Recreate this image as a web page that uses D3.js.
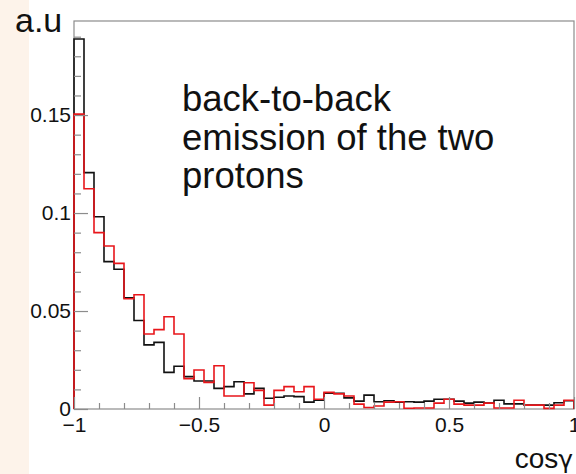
<!DOCTYPE html>
<html>
<head>
<meta charset="utf-8">
<script src="https://cdn.jsdelivr.net/npm/d3@7"></script>
<style>
  body { margin: 0; background: #fff; }
  text { font-family: "Liberation Sans", Arial, sans-serif; }
</style>
</head>
<body>
<svg id="svg_hist"></svg>
<script>
// bin contents, 50 bins from -1 to 1
var blackValues = [
  0.1888, 0.1206, 0.0981, 0.0752, 0.0713, 0.0568, 0.0452, 0.0327, 0.0340, 0.0187,
  0.0218, 0.0165, 0.0143, 0.0143, 0.0105, 0.0114, 0.0139, 0.0077, 0.0105, 0.0055,
  0.0060, 0.0066, 0.0063, 0.0035, 0.0045, 0.0080, 0.0080, 0.0057, 0.0040, 0.0071,
  0.0037, 0.0042, 0.0035, 0.0037, 0.0035, 0.0040, 0.0050, 0.0050, 0.0040, 0.0030,
  0.0035, 0.0030, 0.0045, 0.0026, 0.0026, 0.0020, 0.0020, 0.0020, 0.0032, 0.0042
]
var redValues = [
  0.1505, 0.1124, 0.0900, 0.0832, 0.0743, 0.0563, 0.0583, 0.0383, 0.0405, 0.0471,
  0.0383, 0.0155, 0.0199, 0.0136, 0.0221, 0.0066, 0.0066, 0.0134, 0.0095, 0.0020,
  0.0095, 0.0114, 0.0088, 0.0114, 0.0050, 0.0085, 0.0077, 0.0066, 0.0025, 0.0008,
  0.0015, 0.0035, 0.0037, 0.0004, 0.0005, 0.0005, 0.0030, 0.0050, 0.0025, 0.0020,
  0.0020, 0.0030, 0.0005, 0.0005, 0.0045, 0.0020, 0.0020, 0.0003, 0.0020, 0.0045
]
var xRange = [-1, 1]
var yRange = [0, 0.198]
var xMajor = [-1, -0.5, 0, 0.5, 1]
var xMajorLabels = ["\u22121", "\u22120.5", "0", "0.5", "1"]
var xMinor = [-0.9, -0.8, -0.7, -0.6, -0.4, -0.3, -0.2, -0.1, 0.1, 0.2, 0.3, 0.4, 0.6, 0.7, 0.8, 0.9]
var yMajor = [0, 0.05, 0.1, 0.15]
var yMajorLabels = ["0", "0.05", "0.1", "0.15"]
var yMinor = [0.01, 0.02, 0.03, 0.04, 0.06, 0.07, 0.08, 0.09, 0.11, 0.12, 0.13, 0.14, 0.16, 0.17, 0.18, 0.19]
var noteLines = ["back-to-back", "emission of the two", "protons"]

var width = 576,
  height = 474
var plotLeft = 74, plotRight = 574, plotTop = 21, plotBottom = 409

var svg = d3.select("#svg_hist")
  .attr("width", width)
  .attr("height", height)

// beige strip on the left
svg.append("rect")
  .attr("x", 0).attr("y", 0)
  .attr("width", 29).attr("height", height)
  .style("fill", "#fdf3ea")

var x = d3.scaleLinear().domain(xRange).range([plotLeft, plotRight])
var y = d3.scaleLinear().domain(yRange).range([plotBottom, plotTop])

// frame
svg.append("rect")
  .attr("x", plotLeft).attr("y", plotTop)
  .attr("width", plotRight - plotLeft).attr("height", plotBottom - plotTop)
  .style("fill", "none")
  .style("stroke", "#8c8c8c")
  .style("stroke-width", 1.2)

/*
 * Histograms
 */

var binWidth = (xRange[1] - xRange[0]) / blackValues.length

function stepPoints(values) {
  var pts = [[xRange[0], 0]]
  values.forEach(function (v, i) {
    pts.push([xRange[0] + i * binWidth, v])
  })
  pts.push([xRange[1], values[values.length - 1]])
  pts.push([xRange[1], 0])
  return pts
}

var line = d3.line()
  .x(function (d) { return x(d[0]) })
  .y(function (d) { return y(d[1]) })
  .curve(d3.curveStepAfter)

svg.append("path")
  .datum(stepPoints(blackValues))
  .attr("d", line)
  .style("fill", "none")
  .style("stroke", "#111")
  .style("stroke-width", 1.6)

svg.append("path")
  .datum(stepPoints(redValues))
  .attr("d", line)
  .style("fill", "none")
  .style("stroke", "#e8161b")
  .style("stroke-width", 1.6)

/*
 * Axes
 */

function styleAxis(g) {
  g.attr("font-size", null).attr("font-family", null)
  g.select(".domain").remove()
  g.selectAll(".tick line").style("stroke", "#8c8c8c").style("stroke-width", 1.2)
  g.selectAll(".tick text").style("font-size", "21px").style("fill", "#111")
}

svg.append("g")
  .attr("transform", "translate(" + plotLeft + ",0)")
  .call(d3.axisLeft(y).tickValues(yMajor).tickSize(-14).tickPadding(3)
    .tickFormat(function (d, i) { return yMajorLabels[i] }))
  .call(styleAxis)

svg.append("g")
  .attr("transform", "translate(" + plotLeft + ",0)")
  .call(d3.axisLeft(y).tickValues(yMinor).tickSize(-7).tickFormat(""))
  .call(styleAxis)

svg.append("g")
  .attr("transform", "translate(0," + plotBottom + ")")
  .call(d3.axisBottom(x).tickValues(xMajor).tickSize(-12).tickPadding(8)
    .tickFormat(function (d, i) { return xMajorLabels[i] }))
  .call(styleAxis)

svg.append("g")
  .attr("transform", "translate(0," + plotBottom + ")")
  .call(d3.axisBottom(x).tickValues(xMinor).tickSize(-6).tickFormat(""))
  .call(styleAxis)

// axis titles
svg.append("text")
  .attr("x", 15).attr("y", 32)
  .style("font-size", "34px")
  .style("fill", "#111")
  .text("a.u")

var xTitle = svg.append("text")
  .attr("x", 573).attr("y", 468)
  .attr("text-anchor", "end")
  .style("font-size", "28px")
  .style("fill", "#111")
xTitle.append("tspan").text("cos")
xTitle.append("tspan")
  .style("font-family", "'DejaVu Sans', sans-serif")
  .style("font-size", "25px")
  .text("\u03b3")

// annotation
svg.append("text")
  .attr("x", 182).attr("y", 111)
  .style("font-size", "36.5px")
  .style("fill", "#111")
  .selectAll("tspan")
  .data(noteLines)
  .enter()
  .append("tspan")
  .attr("x", 182)
  .attr("dy", function (d, i) { return i === 0 ? 0 : 38.5 })
  .text(function (d) { return d })
</script>
</body>
</html>
